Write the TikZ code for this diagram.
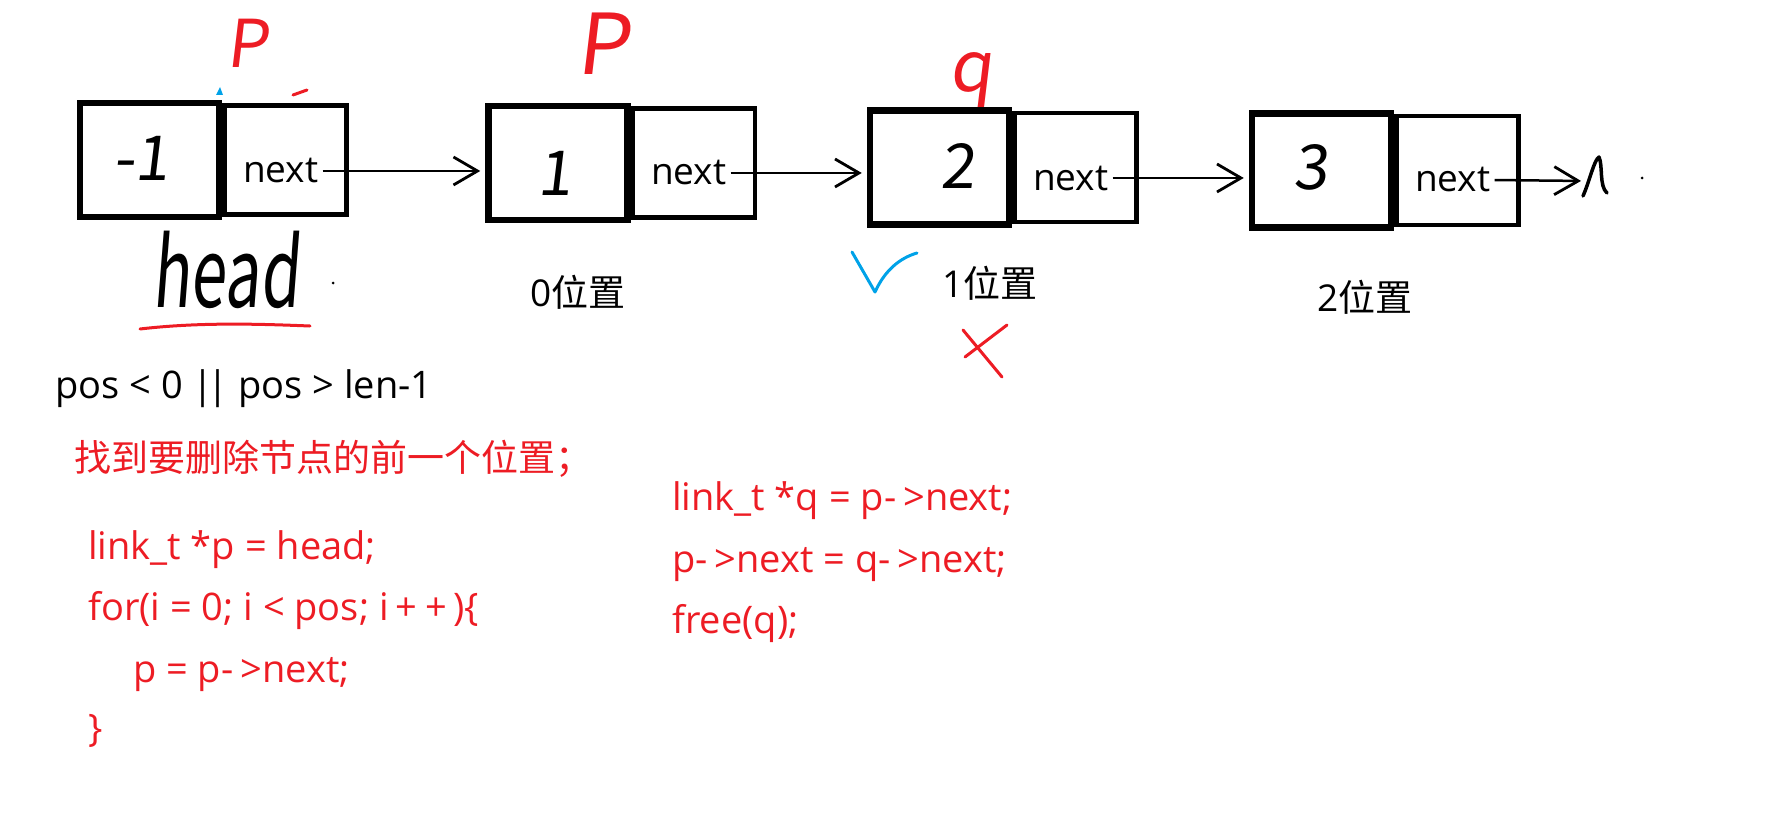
\documentclass[tikz,border=0pt]{standalone}
\usepackage{fontspec}
\usepackage{graphicx}
\setmainfont{Open Sans}
\newfontfamily\cjk{Noto Sans CJK SC}
\newfontfamily\hand[FakeSlant=0.12]{Noto Sans CJK SC}
\usetikzlibrary{arrows.meta}
\definecolor{pred}{HTML}{ED1C24}
\definecolor{pblue}{HTML}{00A2E8}
\newcommand{\arw}{-\kern7pt>}
\newcommand{\plplus}{\kern7pt+\kern8pt+\kern6pt}
\begin{document}
\begin{tikzpicture}[x=1pt,y=-1pt,
  valbox/.style={draw,line width=6.5pt,minimum width=139pt,minimum height=114pt,inner sep=0pt},
  nextbox/.style={draw,line width=4.5pt,minimum width=122pt,minimum height=109pt,inner sep=0pt,anchor=west},
  ptr/.style={line width=2.5pt,shorten <=4pt,shorten >=5pt,-{Straight Barb[length=24pt,width=28pt,line width=2.8pt]}},
  lbl/.style={font=\fontsize{37pt}{44pt}\selectfont,inner sep=0pt,anchor=base west},
  code/.style={lbl,font=\fontsize{38pt}{44pt}\selectfont,text=pred},
  digit/.style={font=\hand\fontsize{62pt}{66pt}\selectfont,inner sep=0pt},
  handred/.style={text=pred,inner sep=0pt},
  ink/.style={line width=3pt,line cap=round,line join=round}
]
\useasboundingbox (0,0) rectangle (1782,837);

% nodes
\node[valbox] (v1) at (149.5,160) {};
\node[nextbox] (r1) at (v1.east) {};
\node[valbox] (v2) at (558,163) {};
\node[nextbox] (r2) at (v2.east) {};
\node[valbox] (v3) at (939.5,167.5) {};
\node[nextbox] (r3) at (v3.east) {};
\node[valbox] (v4) at (1321.5,170.5) {};
\node[nextbox] (r4) at (v4.east) {};

% values
\node[digit] (d1) at (141,158) {-1};
\node[digit] (d2) at (555,173) {1};
\node[digit] (d3) at (958,166) {2};
\node[digit] (d4) at (1311,167) {3};

% next texts
\node[lbl] (t1) at (243,183) {next};
\node[lbl] (t2) at (651,185) {next};
\node[lbl] (t3) at (1033,190) {next};
\node[lbl] (t4) at (1415,192) {next};

% pointers
\draw[ptr] (t1.east) -- (t1.east -| v2.west);
\draw[ptr] (t2.east) -- (t2.east -| v3.west);
\draw[ptr] (t3.east) -- (t3.east -| v4.west);
\coordinate (nil) at (1586,181);
\draw[ptr] (t4.east) -- (nil);
% NULL mark
\draw[ink,line width=3.5pt] (1583,196) .. controls (1590,180) and (1594,160) .. (1599,157) .. controls (1603,166) and (1599,186) .. (1607,193);
\fill (1642,178) circle (1.5pt);

% position labels
\node[lbl] (l0) at (530,306) {0{\cjk 位置}};
\node[lbl] (l1) at (942,297) {1{\cjk 位置}};
\node[lbl] (l2) at (1317,311) {2{\cjk 位置}};

% handwritten annotations
\node[handred,font=\hand\fontsize{66pt}{70pt}\selectfont] (p1) at (247,43) {P};
\node[handred,font=\hand\fontsize{84pt}{88pt}\selectfont] (p2) at (603,44) {P};
\node[handred,font=\hand\fontsize{70pt}{74pt}\selectfont] (q) at (971,80) {q};
\node[font=\hand\fontsize{60pt}{64pt}\selectfont,inner sep=0pt,anchor=base] (head) at (226,307) {\scalebox{1.05}[1.6]{head}};
\draw[ink,pred] (140,329) .. controls (200,322) and (260,324) .. (310,326);
\fill (333,283) circle (1.5pt);
\draw[ink,pred] (293,95) -- (307,90);
\fill[pblue] (216,95) -- (220,87) -- (223,95) -- cycle;

% check and cross
\draw[ink,pblue] (852,252) -- (875,292) .. controls (885,270) and (900,258) .. (917,253);
\draw[ink,pred] (963,330) -- (1002,377);
\draw[ink,pred] (1007,325) -- (965,357);

% condition and code
\node[lbl,font=\fontsize{38pt}{44pt}\selectfont] (cond) at (55,398) {pos < 0 |\kern-6pt| pos > len-1};
\node[code,font=\cjk\fontsize{37pt}{44pt}\selectfont] (find) at (74,471) {找到要删除节点的前一个位置；};
\node[code] (c1) at (88,559) {link\_t *p = head;};
\node[code] (c2) at (88,620) {for(i = 0; i < pos; i\plplus)\{};
\node[code] (c3) at (133,682) {p = p\arw next;};
\node[code] (c4) at (88,741) {\}};
\node[code] (c5) at (672,510) {link\_t *q = p\arw next;};
\node[code] (c6) at (672,572) {p\arw next = q\arw next;};
\node[code] (c7) at (672,633) {free(q);};
\end{tikzpicture}
\end{document}
